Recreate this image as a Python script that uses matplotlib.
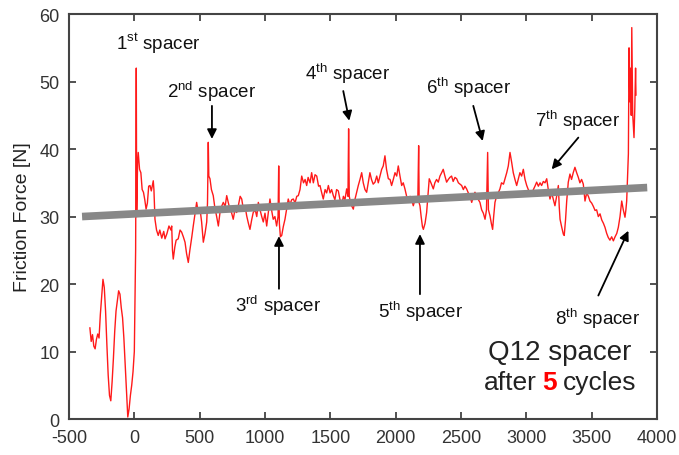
import matplotlib
matplotlib.use("Agg")
import matplotlib.pyplot as plt

plt.rcParams['font.family'] = ['Liberation Sans', 'DejaVu Sans']
plt.rcParams['mathtext.fontset'] = 'custom'
plt.rcParams['mathtext.rm'] = 'Liberation Sans'
plt.rcParams['axes.unicode_minus'] = False

# friction force trace (sliding distance, force in N)
force_x = [-340, -330, -320, -310, -300, -290, -280, -270, -260, -250, -240, -230, -220, -210, -200,
           -190, -180, -170, -160, -150, -140, -130, -120, -110, -100, -90, -80, -70, -60, -50, -40,
           -30, -20, -10, 0, 10, 15, 18, 25, 30, 40, 50, 60, 70, 80, 90, 100, 110, 120, 130, 145, 150,
           158, 170, 183, 195, 210, 225, 235, 250, 265, 280, 286, 292, 298, 310, 320, 336, 350, 362,
           375, 388, 400, 413, 425, 440, 451, 465, 477, 490, 503, 515, 528, 541, 554, 560, 566, 570,
           579, 590, 604, 615, 630, 643, 655, 668, 681, 695, 707, 720, 732, 745, 757, 770, 783, 795,
           810, 822, 835, 848, 860, 873, 885, 898, 910, 925, 937, 949, 962, 975, 987, 1000, 1013, 1025,
           1038, 1050, 1063, 1076, 1089, 1100, 1105, 1110, 1118, 1128, 1140, 1153, 1165, 1178, 1190,
           1205, 1217, 1230, 1243, 1255, 1268, 1281, 1295, 1307, 1319, 1330, 1345, 1357, 1370, 1383,
           1396, 1410, 1421, 1433, 1446, 1460, 1472, 1485, 1498, 1510, 1523, 1535, 1548, 1561, 1574,
           1587, 1600, 1612, 1625, 1635, 1640, 1645, 1655, 1663, 1676, 1688, 1700, 1714, 1727, 1740,
           1752, 1765, 1778, 1790, 1803, 1815, 1828, 1842, 1855, 1867, 1880, 1893, 1905, 1918, 1930,
           1944, 1957, 1969, 1982, 1995, 2008, 2020, 2033, 2046, 2058, 2071, 2084, 2097, 2110, 2122,
           2135, 2148, 2161, 2170, 2176, 2180, 2186, 2195, 2205, 2212, 2225, 2237, 2247, 2257, 2270,
           2288, 2300, 2313, 2326, 2339, 2352, 2364, 2377, 2390, 2403, 2415, 2428, 2440, 2454, 2467,
           2480, 2492, 2505, 2518, 2530, 2543, 2556, 2569, 2582, 2595, 2607, 2620, 2633, 2645, 2658,
           2671, 2684, 2695, 2704, 2710, 2722, 2732, 2742, 2750, 2760, 2772, 2785, 2798, 2810, 2825,
           2837, 2850, 2862, 2875, 2888, 2900, 2913, 2926, 2938, 2951, 2964, 2977, 2990, 3003, 3015,
           3028, 3041, 3054, 3066, 3079, 3092, 3105, 3117, 3130, 3143, 3156, 3168, 3181, 3194, 3207,
           3219, 3232, 3245, 3252, 3258, 3270, 3283, 3290, 3300, 3309, 3321, 3334, 3346, 3359, 3372,
           3385, 3398, 3410, 3423, 3436, 3449, 3462, 3475, 3487, 3500, 3513, 3526, 3538, 3551, 3564,
           3577, 3590, 3602, 3615, 3627, 3640, 3653, 3666, 3679, 3692, 3704, 3717, 3730, 3742, 3755,
           3762, 3768, 3775, 3781, 3786, 3792, 3799, 3803, 3807, 3811, 3814, 3820, 3824, 3830, 3836,
           3839]
force_y = [13.5, 11.5, 12.5, 10.8, 10.4, 11.8, 12.6, 12.0, 15.5, 18.0, 20.7, 19.5, 16.0, 11.0, 6.5,
           3.5, 2.7, 5.5, 9.0, 13.0, 16.0, 17.5, 19.0, 18.5, 16.5, 15.0, 12.0, 8.0, 4.0, 0.3, 1.5,
           3.5, 5.0, 7.0, 10.0, 25.0, 52.0, 30.0, 38.0, 39.5, 37.0, 36.5, 34.0, 33.6, 32.5, 31.1, 32.0,
           34.5, 34.6, 33.8, 35.3, 34.0, 29.6, 28.0, 27.2, 28.0, 26.8, 27.8, 26.7, 27.5, 28.6, 28.0,
           28.6, 25.0, 23.7, 25.5, 26.5, 26.7, 28.0, 27.7, 27.0, 26.2, 24.5, 23.2, 25.0, 27.0, 28.6,
           30.5, 32.1, 30.5, 31.1, 29.2, 26.2, 27.5, 29.2, 32.0, 41.0, 36.0, 35.6, 34.0, 33.1, 31.5,
           30.0, 28.6, 30.5, 31.5, 32.1, 31.5, 33.1, 32.0, 31.1, 30.5, 29.6, 31.0, 30.6, 31.5, 33.0,
           32.6, 31.0, 31.5, 30.1, 29.0, 28.1, 29.5, 30.6, 31.0, 30.0, 32.1, 31.0, 30.0, 29.2, 30.5,
           28.6, 30.5, 32.6, 31.0, 29.6, 30.0, 28.6, 30.0, 37.5, 29.0, 27.0, 27.2, 28.5, 29.6, 31.0,
           32.6, 31.8, 32.5, 32.6, 32.0, 33.0, 33.1, 34.0, 36.0, 35.0, 35.5, 34.6, 35.8, 35.0, 36.5,
           35.0, 36.2, 36.0, 34.5, 34.6, 33.6, 32.6, 34.0, 33.5, 34.6, 33.5, 34.0, 33.1, 32.5, 34.0,
           33.8, 32.5, 31.6, 33.0, 32.5, 34.1, 33.0, 43.0, 33.0, 32.0, 31.6, 31.1, 32.5, 33.5, 34.6,
           35.5, 36.5, 35.0, 34.0, 33.6, 35.0, 36.5, 35.5, 34.8, 35.1, 36.0, 35.0, 36.0, 37.0, 37.5,
           39.0, 37.0, 35.6, 35.5, 34.6, 35.5, 36.5, 36.0, 37.5, 36.0, 34.6, 35.0, 34.1, 33.0, 32.1,
           33.0, 32.5, 31.6, 32.5, 32.1, 33.0, 40.5, 32.0, 31.6, 30.0, 28.5, 28.1, 29.0, 30.6, 33.0,
           35.6, 35.0, 34.1, 35.0, 35.5, 35.1, 36.0, 36.5, 37.0, 36.0, 35.1, 35.5, 35.8, 36.0, 35.2,
           35.8, 35.6, 35.0, 34.8, 34.6, 34.0, 34.5, 34.1, 33.5, 33.0, 32.1, 33.0, 33.6, 32.8, 32.5,
           32.1, 31.0, 30.5, 29.6, 31.0, 39.5, 31.0, 30.1, 29.0, 28.1, 30.0, 32.1, 33.0, 33.5, 34.1,
           35.0, 34.8, 35.6, 36.5, 37.5, 39.5, 38.0, 36.5, 35.5, 34.6, 35.5, 36.5, 36.0, 37.0, 35.5,
           34.6, 34.0, 33.5, 33.1, 34.0, 34.5, 35.1, 34.5, 35.0, 34.6, 35.2, 35.0, 35.6, 34.0, 32.6,
           33.5, 32.5, 31.6, 33.0, 34.6, 31.4, 29.6, 28.5, 27.4, 27.2, 29.5, 32.3, 35.1, 36.3, 35.5,
           36.5, 37.3, 36.5, 35.8, 35.0, 35.5, 34.8, 32.3, 33.5, 33.0, 32.3, 32.0, 31.5, 30.9, 31.0,
           30.0, 30.4, 29.5, 29.0, 28.4, 27.5, 26.9, 26.5, 27.0, 26.4, 27.0, 27.5, 28.4, 30.0, 32.3,
           31.0, 29.9, 31.0, 32.3, 36.0, 39.3, 55.0, 47.0, 52.0, 45.0, 58.0, 50.0, 45.2, 43.0, 41.7,
           46.0, 52.0, 48.0]

# linear trend
trend_x = [-400, 3925]
trend_y = [30.0, 34.3]

# spacer labels: text, text position, arrow start, arrow tip
labels = [r'1$^{\mathrm{st}}$ spacer', r'2$^{\mathrm{nd}}$ spacer', r'3$^{\mathrm{rd}}$ spacer',
          r'4$^{\mathrm{th}}$ spacer', r'5$^{\mathrm{th}}$ spacer', r'6$^{\mathrm{th}}$ spacer',
          r'7$^{\mathrm{th}}$ spacer', r'8$^{\mathrm{th}}$ spacer']
label_pos = [(181, 55.7), (594, 48.6), (1100, 17.0), (1635, 51.4),
             (2194, 16.0), (2561, 49.2), (3392, 44.4), (3548, 15.0)]
arrow_from = [None, (594, 46.4), (1107, 19.3), (1599, 48.6),
              (2186, 18.5), (2594, 46.4), (3398, 41.7), (3551, 18.3)]
arrow_to = [None, (594, 41.5), (1107, 27.1), (1645, 44.2),
            (2186, 27.4), (2666, 41.2), (3194, 37.0), (3781, 27.9)]

fig = plt.figure(figsize=(6.79, 4.56), dpi=100)
ax = fig.add_axes([0.1016, 0.0789, 0.866, 0.888])

ax.plot(force_x, force_y, color='#ff1a1a', lw=1.0, zorder=2)
ax.plot(trend_x, trend_y, color='#888888', lw=5.5, solid_capstyle='butt', zorder=3)

for i in range(len(labels)):
    ax.text(label_pos[i][0], label_pos[i][1], labels[i], fontsize=13.5,
            ha='center', va='center', color='#111111')
    if arrow_from[i] is not None:
        ax.annotate('', xy=arrow_to[i], xytext=arrow_from[i],
                    arrowprops=dict(arrowstyle='-|>', color='black', lw=1.3,
                                    mutation_scale=14, shrinkA=0, shrinkB=0))

ax.text(0.835, 0.165, 'Q12 spacer', transform=ax.transAxes, fontsize=20,
        ha='center', va='center', color='#222222')
ax.text(0.705, 0.074, 'after', transform=ax.transAxes, fontsize=19,
        ha='left', va='baseline', color='#222222')
ax.text(0.804, 0.074, '5', transform=ax.transAxes, fontsize=19, fontweight='bold',
        ha='left', va='baseline', color='red')
ax.text(0.840, 0.074, 'cycles', transform=ax.transAxes, fontsize=19,
        ha='left', va='baseline', color='#222222')

ax.set_xlim(-500, 4000)
ax.set_ylim(0, 60)
ax.set_xticks(range(-500, 4001, 500))
ax.set_yticks(range(0, 61, 10))
ax.tick_params(direction='in', length=5, width=1.2, top=True, right=True,
               labelsize=13, colors='#333333', pad=7)
for s in ax.spines.values():
    s.set_color('#444444')
    s.set_linewidth(1.5)
ax.set_ylabel('Friction Force [N]', fontsize=14, color='#222222', labelpad=6)

fig.savefig('out.png', dpi=100)
